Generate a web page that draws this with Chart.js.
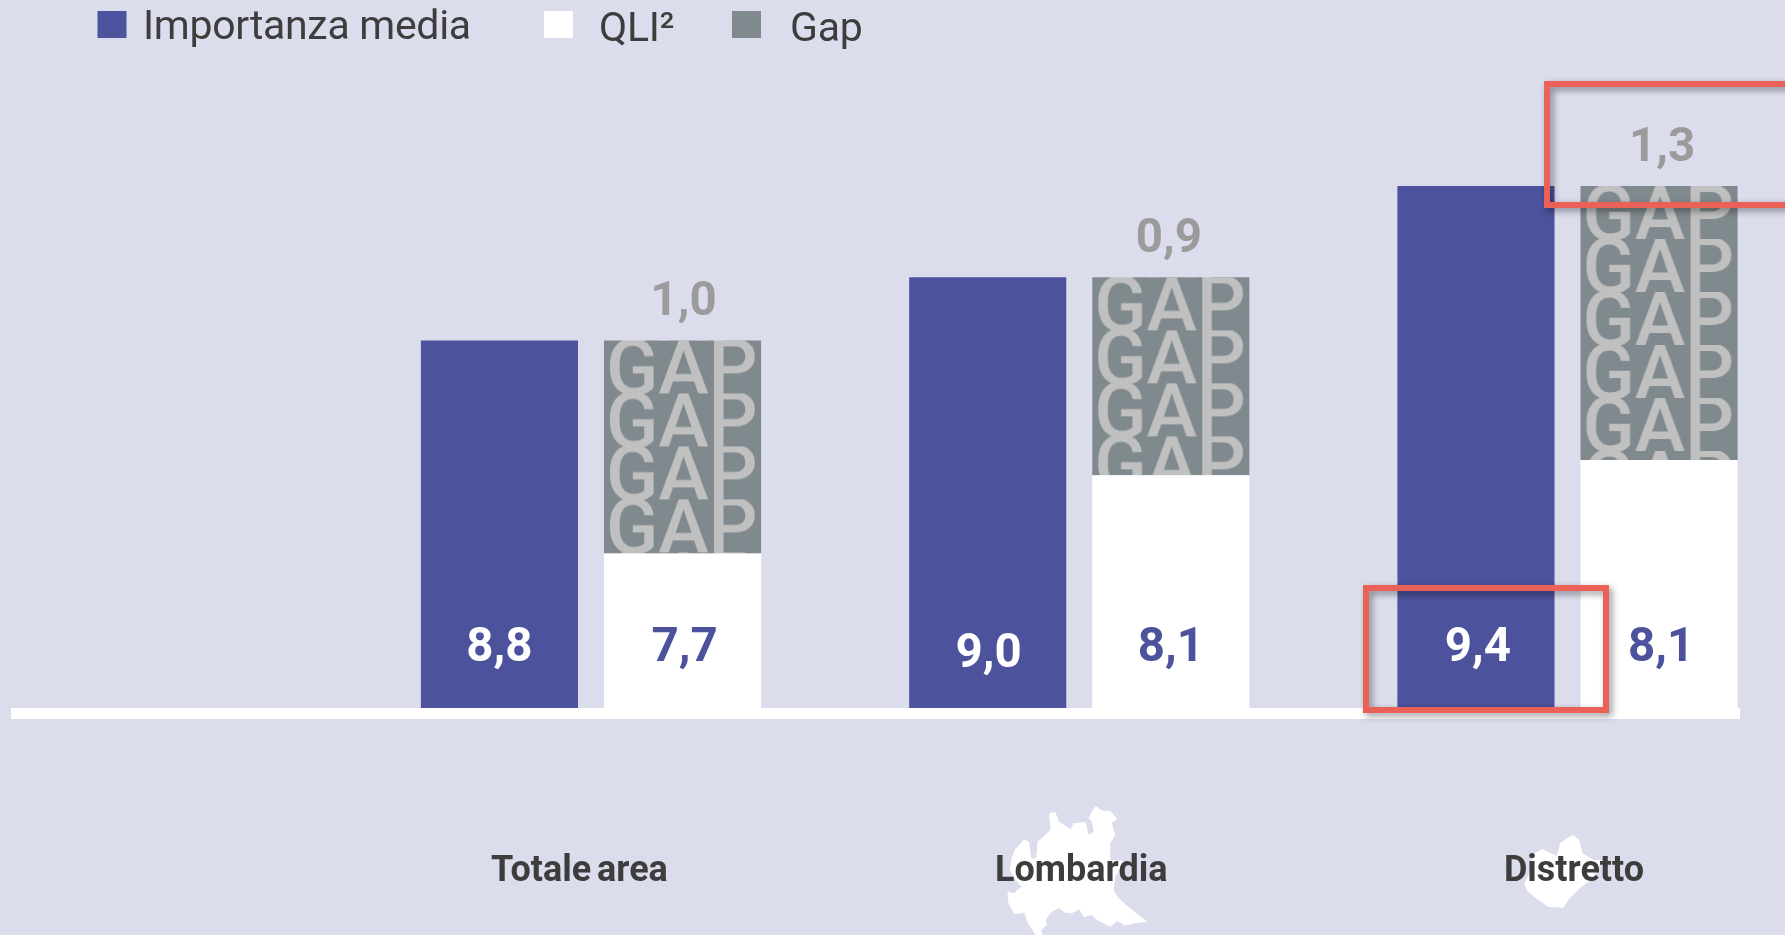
<!DOCTYPE html>
<html lang="it">
<head>
<meta charset="utf-8">
<title>Importanza media, QLI e Gap</title>
<script src="https://cdn.jsdelivr.net/npm/chart.js@4"></script>
<style>
  html, body { margin: 0; padding: 0; background: #dbdded; overflow: hidden; }
  canvas { display: block; }
</style>
</head>
<body>
<canvas id="gapChart" width="1785" height="935"></canvas>
<script>
const categories = ["Totale area", "Lombardia", "Distretto"];

// bar heights as measured on the picture, the printed labels are kept apart
// because the original bars are not exactly proportional to them
const importanza = [8.69, 8.98, 9.4];
const qli = [7.71, 8.07, 8.14];
const gap = [0.98, 0.91, 1.26];

const importanzaLabels = ["8,8", "9,0", "9,4"];
const qliLabels = ["7,7", "8,1", "8,1"];
const gapLabels = ["1,0", "0,9", "1,3"];

const BLUE = "#4c529c";
const GREY = "#7f898e";
const RED = "#ea6158";
const TEXT = "#3d3d3d";

// one "GAP" tile, repeated down each gap bar from its top edge
function makeGapTile() {
  const tile = document.createElement("canvas");
  tile.width = 157;
  tile.height = 53.4;
  const c = tile.getContext("2d");
  c.fillStyle = GREY;
  c.fillRect(0, 0, tile.width, tile.height);
  c.fillStyle = "#c0c0c0";
  c.font = "500 77px Roboto";
  c.textBaseline = "alphabetic";
  c.letterSpacing = "-0.5px";
  c.fillText("GAP", 2, 54);
  return tile;
}

const gapTile = makeGapTile();
const gapPatterns = [];

function gapFill(ctx) {
  const i = ctx.dataIndex;
  if (!gapPatterns[i]) {
    gapPatterns[i] = ctx.chart.ctx.createPattern(gapTile, "repeat");
  }
  return gapPatterns[i];
}

const legendItems = [
  { dataset: 0, box: 97.5, text: 143, baseline: 39 },
  { dataset: 1, box: 544, text: 599, baseline: 41 },
  { dataset: 2, box: 732, text: 790, baseline: 41 },
];

const lombardiaOutline = [
  [305,78],[318,92],[335,93],[350,118],[338,128],[345,165],[335,190],[335,240],[365,243],[345,290],
  [342,330],[350,350],[372,380],[395,405],[412,425],[385,430],[365,437],[350,422],[335,440],[310,422],
  [295,405],[280,412],[270,388],[255,400],[240,398],[228,385],[212,395],[200,420],[203,435],[190,450],
  [195,468],[180,468],[163,430],[155,398],[135,403],[122,370],[120,335],[135,340],[140,330],[150,322],
  [135,295],[125,270],[128,240],[135,210],[155,178],[165,185],[170,235],[180,235],[183,185],[210,150],
  [207,100],[220,95],[228,125],[252,148],[258,130],[283,126],[290,165],[300,155],[297,125],[290,115],[298,90],
];
const distrettoOutline = [
  [1303,165],[1315,180],[1322,220],[1345,240],[1365,240],[1340,300],[1320,320],[1295,355],[1282,383],
  [1250,380],[1225,355],[1208,335],[1200,312],[1215,270],[1215,225],[1238,207],[1268,228],[1275,190],[1290,175],
];

function drawOutline(c, points) {
  c.beginPath();
  points.forEach(([x, y], i) => {
    const px = 950 + x / 2.09;
    const py = 780 + y / 3;
    if (i === 0) c.moveTo(px, py);
    else c.lineTo(px, py);
  });
  c.closePath();
  c.fill();
}

function centerText(c, text, x, y, font, color) {
  c.font = font;
  c.fillStyle = color;
  c.textAlign = "center";
  c.textBaseline = "middle";
  c.fillText(text, x, y);
}

const decorations = {
  id: "decorations",
  beforeDatasetsDraw(chart) {
    const c = chart.ctx;
    c.save();
    // white base line
    c.fillStyle = "#ffffff";
    c.fillRect(11, chart.scales.y.bottom, 1729, 11);
    c.restore();
    // anchor each pattern to the top left corner of its own bar
    chart.getDatasetMeta(2).data.forEach((bar, i) => {
      const left = bar.x - bar.width / 2;
      gapPatterns[i].setTransform(new DOMMatrix().translate(left, bar.y));
    });
  },
  afterDatasetsDraw(chart) {
    const c = chart.ctx;
    const bottom = chart.scales.y.bottom;
    c.save();

    // legend
    legendItems.forEach((item) => {
      const ds = chart.data.datasets[item.dataset];
      c.fillStyle = item.dataset === 2 ? GREY : ds.backgroundColor;
      c.fillRect(item.box, 11, 29, 27);
      c.font = "400 41px Roboto";
      c.fillStyle = TEXT;
      c.textAlign = "left";
      c.textBaseline = "alphabetic";
      c.letterSpacing = "-0.3px";
      c.fillText(ds.label, item.text, item.baseline);
      c.letterSpacing = "0px";
    });

    // value labels
    const blueBars = chart.getDatasetMeta(0).data;
    const whiteBars = chart.getDatasetMeta(1).data;
    const gapBars = chart.getDatasetMeta(2).data;
    const valueFont = "700 47.5px Roboto";
    const gapShift = [1, -2, 3];
    categories.forEach((name, i) => {
      centerText(c, importanzaLabels[i], blueBars[i].x + (i === 1 ? 1 : i === 2 ? 2 : 0), bottom - (i === 1 ? 53 : 59), valueFont, "#ffffff");
      centerText(c, qliLabels[i], whiteBars[i].x + (i === 1 ? 0 : 2), bottom - 59, valueFont, BLUE);
      centerText(c, gapLabels[i], gapBars[i].x + gapShift[i], gapBars[i].y - 37, valueFont, "#9b9b9b");
    });

    // region shapes with the category names on top
    c.fillStyle = "#ffffff";
    drawOutline(c, lombardiaOutline);
    drawOutline(c, distrettoOutline);
    const nameOffset = [-11.5, 2, 6.5];
    categories.forEach((name, i) => {
      const x = chart.scales.x.getPixelForValue(i) + nameOffset[i];
      c.font = "700 36px Roboto";
      c.fillStyle = TEXT;
      c.textAlign = "center";
      c.textBaseline = "alphabetic";
      c.wordSpacing = "-3px";
      c.fillText(name, x, 881);
      c.wordSpacing = "0px";
    });

    // red highlight boxes
    c.strokeStyle = RED;
    c.lineWidth = 6;
    c.shadowColor = "rgba(0,0,0,0.42)";
    c.shadowBlur = 7;
    c.shadowOffsetX = 3;
    c.shadowOffsetY = 3;
    c.strokeRect(1547, 84, 260, 121);
    c.strokeRect(1366, 588, 240, 122);
    c.restore();
  },
};

// bars run past the category ticks sideways, so only the bottom edge is clipped
const barClip = { left: false, right: false, top: false, bottom: 0 };

const gapChart = new Chart(document.getElementById("gapChart").getContext("2d"), {
  type: "bar",
  data: {
    labels: categories,
    datasets: [
      { label: "Importanza media", data: importanza, backgroundColor: BLUE, stack: "a", clip: barClip },
      { label: "QLI²", data: qli, backgroundColor: "#ffffff", stack: "b", clip: barClip },
      { label: "Gap", data: gap, backgroundColor: gapFill, stack: "b", clip: barClip },
    ],
  },
  options: {
    responsive: false,
    animation: false,
    categoryPercentage: 0.75,
    barPercentage: 0.858,
    layout: {
      padding: { left: 591, right: 217.5, top: 55.5, bottom: 227 },
    },
    scales: {
      x: { display: false, stacked: true, offset: false },
      y: { display: false, stacked: true, min: 7, max: 10 },
    },
    plugins: {
      legend: { display: false },
      tooltip: { enabled: false },
    },
  },
  plugins: [decorations],
});
</script>
</body>
</html>
